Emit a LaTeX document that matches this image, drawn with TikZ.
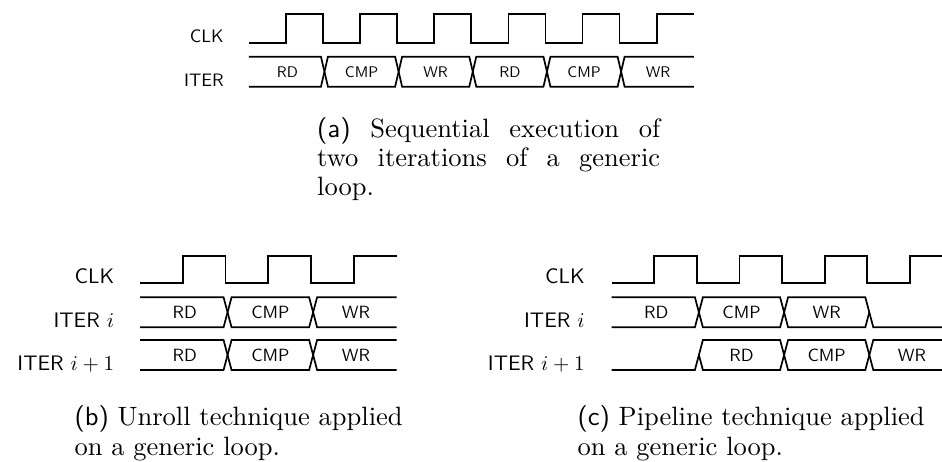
\documentclass[tikz,border=0pt]{standalone}
\usepackage{fontspec}
\begin{document}
\begin{tikzpicture}[x=1pt,y=-1pt,
  sig/.style={line width=1.7pt,line join=miter,line cap=butt},
  lblA/.style={anchor=base east,inner sep=0pt,scale=1.8,font=\sffamily},
  lblB/.style={anchor=base east,inner sep=0pt,scale=2.1,font=\sffamily},
  datA/.style={inner sep=0pt,scale=1.54,font=\sffamily},
  datB/.style={inner sep=0pt,scale=1.77,font=\sffamily},
  capline/.style={anchor=base west,inner sep=0pt,scale=2.65}]
\useasboundingbox (0,0) rectangle (942,462);
% generic data bus: #1 x-start, #2 first transition, #3 spacing, #4 count, #5 x-end, #6 top, #7 bottom
\newcommand{\databus}[7]{%
  \draw[sig] (#1,#6) foreach \k in {1,...,#4}{ -- ({#2+(\k-1)*#3-\hw},{ifthenelse(mod(\k,2)==1,#6,#7)}) -- ({#2+(\k-1)*#3+\hw},{ifthenelse(mod(\k,2)==1,#7,#6)}) } -- (#5,{ifthenelse(mod(#4,2)==1,#7,#6)});
  \draw[sig] (#1,#7) foreach \k in {1,...,#4}{ -- ({#2+(\k-1)*#3-\hw},{ifthenelse(mod(\k,2)==1,#7,#6)}) -- ({#2+(\k-1)*#3+\hw},{ifthenelse(mod(\k,2)==1,#6,#7)}) } -- (#5,{ifthenelse(mod(#4,2)==1,#6,#7)});
}
% ---------------- (a) ----------------
\def\xa{248.8}\def\ha{37.08}\def\hw{3.5}
\node[lblA] (a-clk) at (224,42.7) {CLK};
\node[lblA] (a-iter) at (224,86.7) {ITER};
\draw[sig] (\xa,42.7) -- ++(\ha,0) foreach \k in {1,...,5}{ -- ++(0,-28.4) -- ++(\ha,0) -- ++(0,28.4) -- ++(\ha,0)} -- ++(0,-28.4) -- ++(\ha,0);
\databus{\xa}{\xa+2*\ha+1.5}{2*\ha}{5}{\xa+12*\ha}{56.7}{86.7}
\foreach \t [count=\i from 0] in {RD,CMP,WR,RD,CMP,WR}
  \node[datA] (a-d\i) at ({\xa+(2*\i+1)*\ha+1.5},71.7) {\t};
\node[capline] (cap-a1) at (316.7,138) {\makebox[129.4pt][s]{\textsf{(a)} Sequential execution of}};
\node[capline] (cap-a2) at (316.7,167) {\makebox[129.4pt][s]{two iterations of a generic}};
\node[capline] (cap-a3) at (316.7,196) {loop.};
% ---------------- (b) ----------------
\def\xb{140}\def\hb{42.78}\def\hw{4}
\node[lblB] (b-clk) at (114.5,283.3) {CLK};
\node[lblB] (b-it1) at (114.5,327.3) {ITER $i$};
\node[lblB] (b-it2) at (114.5,370) {ITER $i+1$};
\draw[sig] (\xb,283.3) -- ++(\hb,0) foreach \k in {1,2}{ -- ++(0,-27.6) -- ++(\hb,0) -- ++(0,27.6) -- ++(\hb,0)} -- ++(0,-27.6) -- ++(\hb,0);
\databus{\xb}{\xb+2*\hb+2}{2*\hb}{2}{\xb+6*\hb}{297.3}{327.3}
\databus{\xb}{\xb+2*\hb+2}{2*\hb}{2}{\xb+6*\hb}{340}{370}
\foreach \t [count=\i from 0] in {RD,CMP,WR}{
  \node[datB] (b-r1d\i) at ({\xb+(2*\i+1)*\hb+2},312.3) {\t};
  \node[datB] (b-r2d\i) at ({\xb+(2*\i+1)*\hb+2},355) {\t};
}
\node[capline] (cap-b1) at (74,425) {\textsf{(b)} Unroll technique applied};
\node[capline] (cap-b2) at (74,455) {on a generic loop.};
% ---------------- (c) ----------------
\def\xc{611.7}\def\hc{42.6}
\node[lblB] (c-clk) at (585,283.3) {CLK};
\node[lblB] (c-it1) at (585,327.3) {ITER $i$};
\node[lblB] (c-it2) at (585,370) {ITER $i+1$};
\draw[sig] (\xc,283.3) -- ++(\hc,0) foreach \k in {1,2,3}{ -- ++(0,-27.6) -- ++(\hc,0) -- ++(0,27.6) -- ++(\hc,0)} -- ++(0,-27.6) -- (942,255.7);
\pgfmathsetmacro\ta{\xc+2*\hc+2}
\pgfmathsetmacro\tb{\xc+4*\hc+2}
\pgfmathsetmacro\tc{\xc+6*\hc+2}
% ITER i (c)
\draw[sig] (\xc,297.3) -- (\ta-\hw,297.3) -- (\ta+\hw,327.3) -- (\tb-\hw,327.3) -- (\tb+\hw,297.3) -- (\tc-\hw,297.3) -- (\tc+\hw,327.3) -- (942,327.3);
\draw[sig] (\xc,327.3) -- (\ta-\hw,327.3) -- (\ta+\hw,297.3) -- (\tb-\hw,297.3) -- (\tb+\hw,327.3) -- (\tc-\hw,327.3) -- (\tc,312.3);
% ITER i+1 (c)
\draw[sig] (\xc,370) -- (\ta-\hw,370) -- (\ta+\hw,340) -- (\tb-\hw,340) -- (\tb+\hw,370) -- (\tc-\hw,370) -- (\tc+\hw,340) -- (942,340);
\draw[sig] (\ta,355) -- (\ta+\hw,370) -- (\tb-\hw,370) -- (\tb+\hw,340) -- (\tc-\hw,340) -- (\tc+\hw,370) -- (942,370);
\foreach \t [count=\i from 0] in {RD,CMP,WR}{
  \node[datB] (c-r1d\i) at ({\xc+(2*\i+1)*\hc+2},312.3) {\t};
  \node[datB] (c-r2d\i) at ({\xc+(2*\i+3)*\hc+2},355) {\t};
}
\node[capline] (cap-c1) at (577,425) {\textsf{(c)} Pipeline technique applied};
\node[capline] (cap-c2) at (577,455) {on a generic loop.};
\end{tikzpicture}
\end{document}
